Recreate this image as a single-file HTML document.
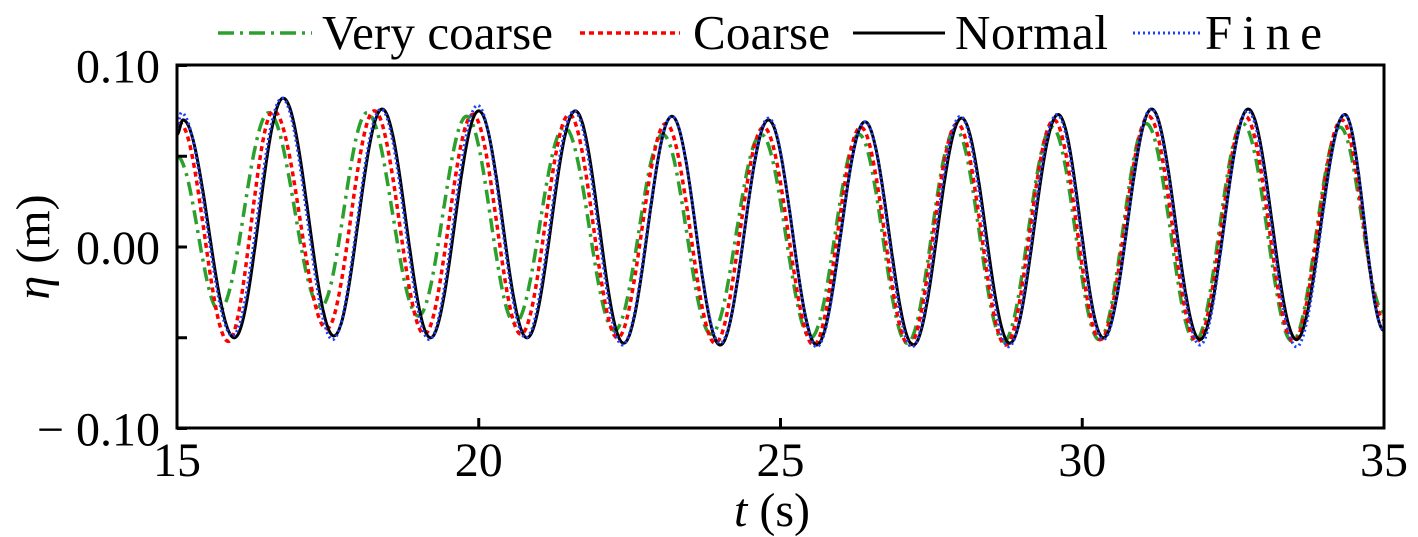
<!DOCTYPE html>
<html><head><meta charset="utf-8"><style>
body{margin:0;background:#fff;}
svg{display:block;font-family:"Liberation Serif",serif;}
</style></head><body>
<svg id="chart" width="1418" height="537">
<g id="legend">
 <g><line x1="218" y1="33" x2="312" y2="33" stroke="#2ca02c" stroke-width="3.5" stroke-dasharray="16,6,3,6"/><text x="322" y="49" font-size="49" textLength="231">Very coarse</text></g>
 <g><line x1="580" y1="33" x2="680" y2="33" stroke="#ff0000" stroke-width="3.5" stroke-dasharray="5,4"/><text x="693" y="49" font-size="49" textLength="137">Coarse</text></g>
 <g><line x1="853" y1="33" x2="945" y2="33" stroke="#000" stroke-width="3"/><text x="955" y="49" font-size="49" textLength="153">Normal</text></g>
 <g><line x1="1133" y1="33" x2="1200" y2="33" stroke="#1f3fff" stroke-width="3" stroke-dasharray="2,3"/><text x="1205" y="49" font-size="49" textLength="117">Fine</text></g>
</g>
<g id="series" clip-path="url(#clip)"></g>
<defs><clipPath id="clip"><rect x="177" y="65" width="1207" height="363"/></clipPath></defs>
<rect x="177" y="65" width="1207" height="363" fill="none" stroke="#000" stroke-width="3"/>
<g id="axes"></g>
<text x="38" y="247" font-size="48" text-anchor="middle" transform="rotate(-90 38 247)" dominant-baseline="middle"><tspan font-style="italic">η</tspan> (m)</text>
<text x="772" y="526" font-size="48" text-anchor="middle"><tspan font-style="italic">t</tspan> (s)</text>
</svg>
<script>
const xTicks=[15,20,25,30,35];
const yTicks=[0.10,0.05,0.00,-0.05,-0.10];
const yTickLabels=["0.10","","0.00","","− 0.10"];
// extrema times / values
const normalT=[15.0,15.1,15.95,16.76,17.6,18.4,19.2,20.0,20.8,21.6,22.4,23.2,24.0,24.8,25.6,26.4,27.2,28.0,28.8,29.6,30.35,31.15,31.95,32.75,33.55,34.35,35.0];
const normalV=[0.062,0.070,-0.050,0.082,-0.049,0.076,-0.050,0.075,-0.050,0.075,-0.053,0.072,-0.054,0.070,-0.054,0.069,-0.054,0.071,-0.053,0.073,-0.050,0.076,-0.051,0.076,-0.051,0.073,-0.046];
const fineT=[15.0,15.07,15.92,16.74,17.58,18.38,19.18,19.98,20.78,21.58,22.38,23.2,24.0,24.8,25.6,26.4,27.18,27.98,28.78,29.58,30.35,31.14,31.95,32.74,33.55,34.35,35.0];
const fineV=[0.065,0.074,-0.049,0.082,-0.051,0.076,-0.051,0.078,-0.050,0.075,-0.054,0.072,-0.053,0.071,-0.055,0.069,-0.055,0.072,-0.055,0.073,-0.051,0.076,-0.054,0.075,-0.055,0.073,-0.046];
const coarseT=[15.0,15.05,15.85,16.6,17.48,18.27,19.1,19.9,20.7,21.5,22.3,23.1,23.92,24.72,25.55,26.33,27.13,27.93,28.73,29.53,30.3,31.1,31.9,32.7,33.5,34.3,35.0];
const coarseV=[0.062,0.068,-0.052,0.075,-0.045,0.075,-0.048,0.073,-0.048,0.073,-0.050,0.068,-0.053,0.066,-0.054,0.066,-0.054,0.068,-0.054,0.070,-0.051,0.072,-0.052,0.072,-0.052,0.070,-0.040];
const vcoarseT=[15.0,15.7,16.52,17.38,18.15,19.0,19.8,20.6,21.42,22.25,23.05,23.85,24.68,25.5,26.3,27.1,27.9,28.7,29.5,30.28,31.06,31.87,32.66,33.48,34.27,35.0];
const vcoarseV=[0.050,-0.035,0.074,-0.033,0.074,-0.038,0.072,-0.042,0.066,-0.046,0.062,-0.048,0.062,-0.050,0.062,-0.053,0.065,-0.052,0.066,-0.051,0.068,-0.052,0.068,-0.052,0.066,-0.036];
const X=t=>177+(t-15)*1207/20;
const Y=v=>247-v*1815;
const NS="http://www.w3.org/2000/svg";
function valAt(T,V,t){for(let i=0;i<T.length-1;i++){if(t>=T[i]&&t<=T[i+1]){const f=(t-T[i])/(T[i+1]-T[i]);const w=(1-Math.cos(Math.PI*f))/2;return V[i]+(V[i+1]-V[i])*w;}}return V[V.length-1];}
function draw(T,V,color,dash,w,name){let d="";for(let t=15;t<=35.0001;t+=0.01){d+=(d?"L":"M")+X(t).toFixed(1)+","+Y(valAt(T,V,t)).toFixed(1);}
 const p=document.createElementNS(NS,"path");p.setAttribute("d",d);p.setAttribute("fill","none");p.setAttribute("stroke",color);p.setAttribute("stroke-width",w);if(dash)p.setAttribute("stroke-dasharray",dash);
 
 
 document.getElementById("series").appendChild(p);}
draw(vcoarseT,vcoarseV,"#2ca02c","14,6,3,6",3.5,"series-very-coarse");
draw(coarseT,coarseV,"#ff0000","5,4",3.5,"series-coarse");
draw(normalT,normalV,"#000","",3,"series-normal");
draw(fineT,fineV,"#1f3fff","2,3",3,"series-fine");
const ax=document.getElementById("axes");
xTicks.forEach(t=>{const l=document.createElementNS(NS,"line");l.setAttribute("x1",X(t));l.setAttribute("x2",X(t));l.setAttribute("y1",428);l.setAttribute("y2",418);l.setAttribute("stroke","#000");l.setAttribute("stroke-width",3);
 
 
 ax.appendChild(l);
 const tx=document.createElementNS(NS,"text");tx.setAttribute("x",X(t));tx.setAttribute("y",476);tx.setAttribute("font-size",48);tx.setAttribute("text-anchor","middle");tx.textContent=t;
 
 
 ax.appendChild(tx);});
yTicks.forEach((v,i)=>{const l=document.createElementNS(NS,"line");l.setAttribute("x1",177);l.setAttribute("x2",187);l.setAttribute("y1",Y(v));l.setAttribute("y2",Y(v));l.setAttribute("stroke","#000");l.setAttribute("stroke-width",3);
 
 
 ax.appendChild(l);
 if(yTickLabels[i]){const tx=document.createElementNS(NS,"text");tx.setAttribute("x",160);tx.setAttribute("y",Y(v)+17);tx.setAttribute("font-size",48);tx.setAttribute("text-anchor","end");tx.textContent=yTickLabels[i];
 
 
 ax.appendChild(tx);}});
</script>
</body></html>
